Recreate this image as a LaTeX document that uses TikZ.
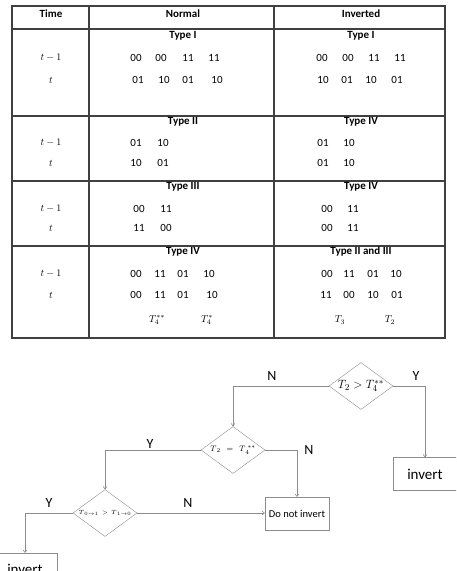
\documentclass[tikz,border=0pt]{standalone}
\usepackage{fontspec}
\setmainfont{Carlito}
\usepackage{tikz}
\usetikzlibrary{shapes.geometric, arrows.meta, positioning, calc}
\definecolor{lineaTabla}{HTML}{404040}
\definecolor{grisFlujo}{HTML}{8C8C8C}

\begin{document}
\begin{tikzpicture}[
        x=1pt, y=-1pt,
        head/.style={font=\bfseries\fontsize{11}{13}\selectfont},
        val/.style={font=\fontsize{11}{13}\selectfont, inner sep=0pt},
        tm/.style={font=\fontsize{10}{12}\selectfont, inner sep=0pt},
        dia/.style={diamond, draw=grisFlujo, minimum width=64pt, minimum height=47pt, inner sep=0pt},
        act/.style={rectangle, draw=grisFlujo, minimum width=64pt, minimum height=33pt,
            font=\fontsize{15}{17}\selectfont},
        yn/.style={font=\fontsize{14}{16}\selectfont},
        arr/.style={-{To[length=3pt,width=4pt]}, grisFlujo, line width=0.6pt}
    ]
        \useasboundingbox (0,0) rectangle (456,571);
        \clip (0,0) rectangle (456,571);

        % tabla
        \draw[lineaTabla, line width=1.1pt] (12,6) rectangle (445,338);
        \foreach \yy in {29,116,181,246}
            \draw[lineaTabla, line width=1.1pt] (12,\yy) -- (445,\yy);
        \foreach \xx in {89,274}
            \draw[lineaTabla, line width=1.1pt] (\xx,6) -- (\xx,338);

        \node[head] (hTime) at (51,14) {Time};
        \node[head] (hNorm) at (183,14) {Normal};
        \node[head] (hInv) at (361,14) {Inverted};

        \node[head] (n1) at (183,36) {Type I};
        \node[head] (i1) at (361,36) {Type I};
        \node[head] (n2) at (183,122) {Type II};
        \node[head] (i2) at (361,122) {Type IV};
        \node[head] (n3) at (183,187) {Type III};
        \node[head] (i3) at (361,187) {Type IV};
        \node[head] (n4) at (183,252) {Type IV};
        \node[head] (i4) at (361,252) {Type II and III};

        \foreach \yy/\lab [count=\i] in {58/a,80/b,143/c,163/d,209/e,228/f,274/g,295/h}
            \node[tm] (t\lab) at (51,\yy) {\ifodd\i $t-1$\else $t$\fi};

        % fila 1
        \foreach \v/\xx [count=\i] in {00/136,00/161,11/188,11/214}
            \node[val] (na\i) at (\xx,58) {\v};
        \foreach \v/\xx [count=\i] in {01/138,10/164,01/188,10/217}
            \node[val] (nb\i) at (\xx,80) {\v};
        \foreach \v/\xx [count=\i] in {00/322,00/348,11/374,11/400}
            \node[val] (ia\i) at (\xx,58) {\v};
        \foreach \v/\xx [count=\i] in {10/323,01/347,10/371,01/397}
            \node[val] (ib\i) at (\xx,80) {\v};
        % fila 2
        \foreach \v/\xx [count=\i] in {01/136,10/163}
            \node[val] (nc\i) at (\xx,143) {\v};
        \foreach \v/\xx [count=\i] in {10/136,01/163}
            \node[val] (nd\i) at (\xx,163) {\v};
        \foreach \v/\xx [count=\i] in {01/323,10/349}
            \node[val] (ic\i) at (\xx,143) {\v};
        \foreach \v/\xx [count=\i] in {01/323,10/349}
            \node[val] (id\i) at (\xx,163) {\v};
        % fila 3
        \foreach \v/\xx [count=\i] in {00/139,11/166}
            \node[val] (ne\i) at (\xx,209) {\v};
        \foreach \v/\xx [count=\i] in {11/139,00/166}
            \node[val] (nf\i) at (\xx,228) {\v};
        \foreach \v/\xx [count=\i] in {00/327,11/353}
            \node[val] (ie\i) at (\xx,209) {\v};
        \foreach \v/\xx [count=\i] in {00/327,11/353}
            \node[val] (if\i) at (\xx,228) {\v};
        % fila 4
        \foreach \v/\xx [count=\i] in {00/136,11/160,01/183,10/209}
            \node[val] (ng\i) at (\xx,274) {\v};
        \foreach \v/\xx [count=\i] in {00/136,11/160,01/183,10/212}
            \node[val] (nh\i) at (\xx,295) {\v};
        \foreach \v/\xx [count=\i] in {00/327,11/349,01/373,10/396}
            \node[val] (ig\i) at (\xx,274) {\v};
        \foreach \v/\xx [count=\i] in {11/326,00/349,10/373,01/397}
            \node[val] (ih\i) at (\xx,295) {\v};

        \node[tm] (t4a) at (157,320) {$T_4^{**}$};
        \node[tm] (t4b) at (207,320) {$T_4^{*}$};
        \node[tm] (t3) at (340,320) {$T_3$};
        \node[tm] (t2) at (390,320) {$T_2$};

        % diagrama de flujo
        \node[dia] (d1) at (361,386) {\makebox[0pt]{\fontsize{13}{15}\selectfont $T_2 > T_4^{**}$}};
        \node[dia] (d2) at (233,450) {\makebox[0pt]{\fontsize{8}{9}\selectfont $T_{\,2}\ \ =\ \ T_{\,4}^{\;**}$}};
        \node[dia] (d3) at (105,513) {\makebox[0pt]{\fontsize{6.5}{8}\selectfont $T_{\,0\to1}\ >\ T_{\,1\to0}$}};

        \node[act] (inv1) at (425,474) {invert};
        \node[act, font=\fontsize{10.5}{12}\selectfont] (keep) at (297,513.5) {Do not invert};
        \node[act] (inv2) at (25,569.5) {invert};

        \draw[arr] (d1.west) -| (d2.north);
        \draw[arr] (d1.east) -| (inv1.north);
        \draw[arr] (d2.west) -| (d3.north);
        \draw[arr] (d2.east) -| (keep.north);
        \draw[arr] (d3.east) -- (d3.east -| keep.west);
        \draw[arr] (d3.west) -| (inv2.north);

        \node[yn] (lN1) at (272,376) {N};
        \node[yn] (lY1) at (416,376) {Y};
        \node[yn] (lY2) at (150,444) {Y};
        \node[yn] (lN2) at (309,450) {N};
        \node[yn] (lY3) at (49,503) {Y};
        \node[yn] (lN3) at (188,503) {N};
    \end{tikzpicture}
\end{document}
